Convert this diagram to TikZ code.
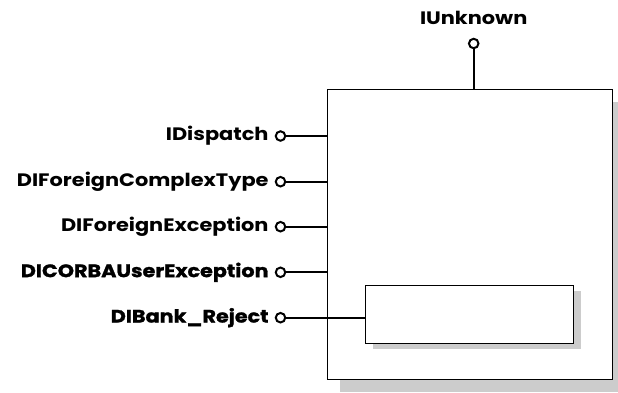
\documentclass[tikz,border=0pt]{standalone}
\usepackage{fontspec}
\setmainfont{Poppins}[FakeStretch=1.16]
\newfontfamily\heavyfont{Poppins}[FakeStretch=1.15, FakeBold=1.4]
\usetikzlibrary{positioning, shadows}
\tikzset{
    compBox/.style={draw=black, fill=white, line width=1pt, inner sep=0pt},
    portDot/.style={circle, draw=black, fill=white, line width=2pt, inner sep=0pt, minimum size=9.5pt},
    portLine/.style={line width=2pt},
    portLabel/.style={inner sep=1pt, font=\fontsize{18}{21}\selectfont\bfseries}
}
\begin{document}
\begin{tikzpicture}[x=1pt, y=-1pt]
    \useasboundingbox (0,0) rectangle (618,392);
    % --- component boxes ---
    \node[compBox, minimum width=285pt, minimum height=290pt,
          drop shadow={shadow xshift=13pt, shadow yshift=-13pt, fill=black!20, opacity=1}]
          (comp) at (469.5,234) {};
    \node[compBox, minimum width=208pt, minimum height=58pt,
          drop shadow={shadow xshift=8pt, shadow yshift=-6pt, fill=black!20, opacity=1}]
          (inner) at (469,314) {};
    % --- top interface ---
    \node[portDot] (pUnk) at (473.7,43.5) {};
    \node[portLabel, anchor=base] (lUnk) at (473.7,24) {IUnknown};
    \draw[portLine] (pUnk) -- (pUnk |- comp.north);
    % --- left interfaces ---
    \node[portDot] (pDisp) at (280.5,136) {};
    \node[portDot] (pCplx) at (280.5,181.7) {};
    \node[portDot] (pExc)  at (280.5,226.7) {};
    \node[portDot] (pCorba) at (280.5,272.3) {};
    \node[portDot] (pBank) at (280.5,317.7) {};
    \node[portLabel, left=5pt of pDisp] (lDisp) {IDispatch};
    \node[portLabel, left=5pt of pCplx] (lCplx) {DIForeignComplexType};
    \node[portLabel, left=5pt of pExc] (lExc) {DIForeignException};
    \node[portLabel, left=5pt of pCorba] (lCorba) {\heavyfont\bfseries DICORBAUserException};
    \node[portLabel, left=5pt of pBank] (lBank) {\heavyfont\bfseries DIBank\_Reject};
    \draw[portLine] (pDisp) -- (pDisp -| comp.west);
    \draw[portLine] (pCplx) -- (pCplx -| comp.west);
    \draw[portLine] (pExc) -- (pExc -| comp.west);
    \draw[portLine] (pCorba) -- (pCorba -| comp.west);
    \draw[portLine] (pBank) -- (pBank -| inner.west);
\end{tikzpicture}
\end{document}
